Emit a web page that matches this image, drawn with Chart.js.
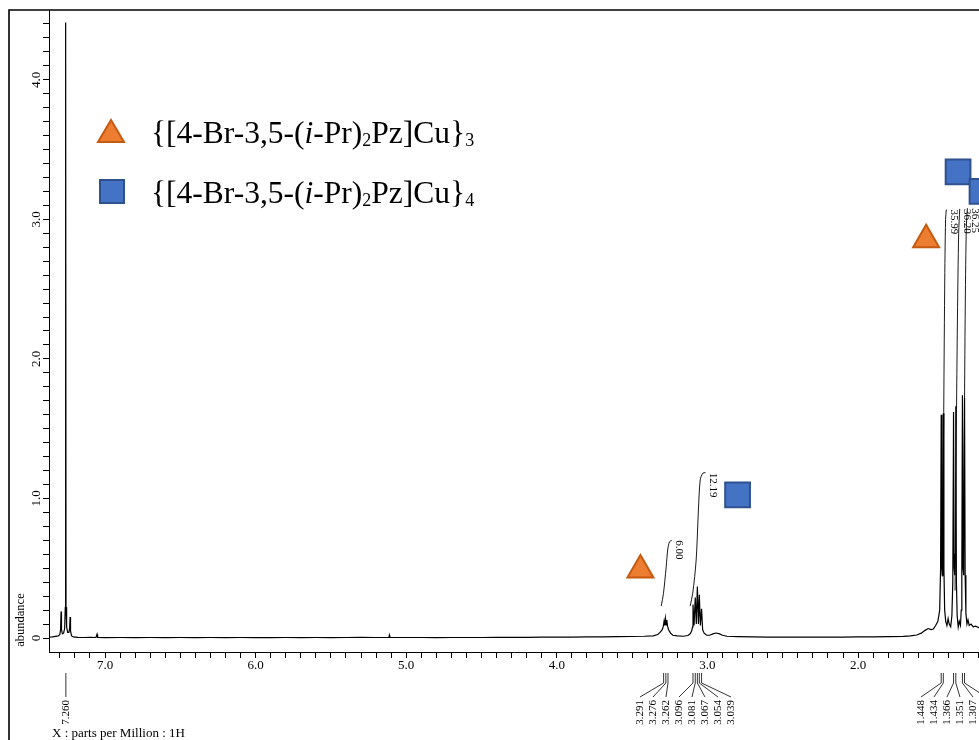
<!DOCTYPE html>
<html>
<head>
<meta charset="utf-8">
<script src="https://cdn.jsdelivr.net/npm/chart.js@4.4.1/dist/chart.umd.min.js"></script>
<style>
  html, body { margin: 0; padding: 0; background: #fff; overflow: hidden; }
  canvas { display: block; }
</style>
</head>
<body>
<canvas id="nmrChart" width="979" height="740"></canvas>
<script>
// 1H NMR spectrum, ppm / abundance
const specPpm = [7.372, 7.35, 7.33, 7.31, 7.30, 7.295, 7.292, 7.289, 7.283, 7.275, 7.268, 7.264, 7.2615, 7.259, 7.255, 7.248, 7.240, 7.235, 7.232, 7.229, 7.222, 7.21, 7.18, 7.14, 7.10, 7.06, 7.053, 7.049,
  7.0, 6.9, 6.8, 6.7, 6.6, 6.5, 6.4, 6.3, 6.2, 6.1, 6.0, 5.9, 5.8, 5.7, 5.6, 5.5, 5.4, 5.3, 5.2, 5.115, 5.112, 5.109,
  5.0, 4.9, 4.8, 4.7, 4.6, 4.5, 4.4, 4.3, 4.2, 4.1, 4.0, 3.9, 3.8, 3.7, 3.6, 3.5, 3.42, 3.36, 3.33, 3.315, 3.30,
  3.293, 3.288, 3.284, 3.279, 3.275, 3.270, 3.265, 3.258, 3.245, 3.23, 3.20, 3.16, 3.13, 3.115, 3.105, 3.099,
  3.096, 3.089, 3.081, 3.074, 3.067, 3.060, 3.054, 3.047, 3.039, 3.032, 3.022, 3.005, 2.985, 2.96, 2.94, 2.92, 2.90, 2.87,
  2.8, 2.7, 2.6, 2.5, 2.4, 2.3, 2.2, 2.1, 2.0, 1.9, 1.8, 1.7, 1.65, 1.61, 1.58, 1.555, 1.535, 1.515, 1.50, 1.485, 1.47,
  1.458, 1.452, 1.448, 1.444, 1.441, 1.437, 1.434, 1.430, 1.425, 1.418, 1.41, 1.402, 1.395, 1.385,
  1.377, 1.371, 1.366, 1.362, 1.358, 1.355, 1.351, 1.347, 1.342, 1.335, 1.328, 1.32,
  1.315, 1.311, 1.307, 1.303, 1.300, 1.297, 1.293, 1.289, 1.284, 1.277, 1.27, 1.262, 1.25, 1.235, 1.22, 1.20, 1.19];
const specAbund = [0.006, 0.008, 0.012, 0.015, 0.025, 0.06, 0.19, 0.06, 0.03, 0.035, 0.07, 0.22, 4.41, 0.22, 0.08, 0.04, 0.04, 0.07, 0.15, 0.05, 0.015, 0.008, 0.005, 0.004, 0.005, 0.004, 0.028, 0.004,
  0.003, 0.004, 0.003, 0.004, 0.003, 0.004, 0.003, 0.004, 0.003, 0.004, 0.003, 0.003, 0.004, 0.003, 0.004, 0.003, 0.004, 0.005, 0.004, 0.004, 0.02, 0.004,
  0.004, 0.004, 0.003, 0.004, 0.004, 0.004, 0.005, 0.005, 0.005, 0.006, 0.006, 0.007, 0.008, 0.009, 0.01, 0.011, 0.013, 0.016, 0.025, 0.04, 0.06,
  0.085, 0.12, 0.09, 0.14, 0.095, 0.13, 0.085, 0.06, 0.035, 0.02, 0.015, 0.013, 0.018, 0.03, 0.05, 0.08,
  0.24, 0.09, 0.29, 0.10, 0.37, 0.10, 0.31, 0.09, 0.21, 0.06, 0.035, 0.02, 0.02, 0.032, 0.036, 0.03, 0.02, 0.013,
  0.01, 0.008, 0.007, 0.006, 0.006, 0.006, 0.006, 0.007, 0.008, 0.009, 0.01, 0.012, 0.015, 0.022, 0.035, 0.055, 0.068, 0.06, 0.065, 0.09, 0.12,
  0.2, 0.5, 1.60, 0.5, 0.45, 0.6, 1.61, 0.5, 0.2, 0.12, 0.09, 0.14, 0.10, 0.08,
  0.16, 0.4, 1.62, 0.5, 0.45, 0.6, 1.66, 0.4, 0.16, 0.08, 0.12, 0.09,
  0.2, 0.5, 1.74, 0.5, 0.45, 0.6, 1.72, 0.45, 0.18, 0.10, 0.13, 0.09, 0.10, 0.08, 0.085, 0.075, 0.07];

// integral curves [ppm, abundance]
const integralCurves = [
  [[3.307, 0.229], [3.292, 0.32], [3.274, 0.511], [3.264, 0.631], [3.252, 0.69], [3.237, 0.70]],
  [[3.115, 0.229], [3.098, 0.32], [3.075, 0.559], [3.060, 0.918], [3.048, 1.133], [3.031, 1.181], [3.013, 1.185]],
  [[1.440, 0.44], [1.432, 1.5], [1.425, 2.5], [1.419, 3.0], [1.414, 3.07]],
  [[1.356, 0.34], [1.350, 1.2], [1.340, 2.3], [1.332, 2.9], [1.325, 3.075]],
  [[1.300, 0.46], [1.295, 1.4], [1.288, 2.4], [1.281, 2.95], [1.274, 3.08]]
];
const integralLabels = ['6.00', '12.19', '35.99', '36.20', '36.25'];

// peak pick labels, grouped as they are fanned out below the axis
const peakGroups = [
  [7.260],
  [3.291, 3.276, 3.262, 3.096, 3.081, 3.067, 3.054, 3.039],
  [1.448, 1.434, 1.366, 1.351, 1.307, 1.293]
];

// assignment markers
const trianglePts = [[3.445, 0.487], [1.548, 2.853]];
const squarePts = [[2.80, 1.025], [1.336, 3.34], [1.177, 3.20]];

const yLabelVals = [0, 1, 2, 3, 4];
const yLabelText = ['0', '1.0', '2.0', '3.0', '4.0'];
const legendNames = [
  [{ t: '{[4-Br-3,5-(' }, { t: 'i', it: true }, { t: '-Pr)' }, { t: '2', sub: true }, { t: 'Pz]Cu}' }, { t: '3', sub: true }],
  [{ t: '{[4-Br-3,5-(' }, { t: 'i', it: true }, { t: '-Pr)' }, { t: '2', sub: true }, { t: 'Pz]Cu}' }, { t: '4', sub: true }]
];

const ORANGE = '#ED7D31', ORANGE_EDGE = '#C55A11';
const BLUE = '#4472C4', BLUE_EDGE = '#2F528F';
const SERIF = '"Liberation Serif", "Times New Roman", serif';

const xTicks = [];
for (let t = 12; t <= 73; t++) xTicks.push({ value: t / 10 });
const yTicks = [];
for (let t = 0; t <= 44; t++) yTicks.push({ value: t / 10 });

const toXY = arr => arr.map(p => ({ x: p[0], y: p[1] }));

const datasets = [
  {
    type: 'scatter', data: toXY(trianglePts), pointStyle: 'triangle', pointRadius: 15,
    backgroundColor: ORANGE, borderColor: ORANGE_EDGE, borderWidth: 2, order: 0, clip: false
  },
  {
    type: 'scatter', data: toXY(squarePts), pointStyle: 'rect', pointRadius: 17.5,
    backgroundColor: BLUE, borderColor: BLUE_EDGE, borderWidth: 2, order: 0, clip: false
  },
  {
    data: specPpm.map((p, i) => ({ x: p, y: specAbund[i] })),
    borderColor: '#000', borderWidth: 1.2, pointRadius: 0, tension: 0, order: 2
  }
];
integralCurves.forEach(c => datasets.push({
  data: toXY(c), borderColor: '#000', borderWidth: 0.9, pointRadius: 0, tension: 0.3, order: 1
}));

const annotate = {
  id: 'annotate',
  afterDraw(chart) {
    const ctx = chart.ctx, xs = chart.scales.x, ys = chart.scales.y;
    ctx.save();
    ctx.fillStyle = '#000';
    ctx.strokeStyle = '#000';

    // outer frame
    ctx.lineWidth = 1.6;
    ctx.beginPath();
    ctx.moveTo(9, 740); ctx.lineTo(9, 10); ctx.lineTo(979, 10);
    ctx.stroke();

    // y tick labels, rotated
    ctx.font = '13px ' + SERIF;
    ctx.textAlign = 'center';
    ctx.textBaseline = 'middle';
    yLabelVals.forEach((v, i) => {
      ctx.save();
      ctx.translate(37, ys.getPixelForValue(v));
      ctx.rotate(-Math.PI / 2);
      ctx.fillText(yLabelText[i], 0, 0);
      ctx.restore();
    });

    // axis titles
    ctx.save();
    ctx.font = '12.5px ' + SERIF;
    ctx.translate(21, 620);
    ctx.rotate(-Math.PI / 2);
    ctx.fillText('abundance', 0, 0);
    ctx.restore();
    ctx.font = '13px ' + SERIF;
    ctx.textAlign = 'left';
    ctx.textBaseline = 'alphabetic';
    ctx.fillText('X : parts per Million : 1H', 52, 737);

    // integral values
    ctx.font = '11px ' + SERIF;
    ctx.textBaseline = 'middle';
    integralCurves.forEach((c, i) => {
      const end = c[c.length - 1];
      ctx.save();
      ctx.translate(xs.getPixelForValue(end[0]) + 7.5, ys.getPixelForValue(end[1]));
      ctx.rotate(Math.PI / 2);
      ctx.textAlign = 'left';
      ctx.fillText(integralLabels[i], 0, 0);
      ctx.restore();
    });

    // peak pick labels
    ctx.lineWidth = 0.8;
    peakGroups.forEach(g => {
      const px = g.map(v => xs.getPixelForValue(v));
      const mid = px.reduce((a, b) => a + b, 0) / px.length;
      g.forEach((v, i) => {
        const lx = mid + (i - (g.length - 1) / 2) * 13;
        ctx.beginPath();
        ctx.moveTo(px[i], 673);
        ctx.lineTo(px[i], 683);
        ctx.lineTo(lx, 697);
        ctx.stroke();
        ctx.save();
        ctx.translate(lx, 700);
        ctx.rotate(-Math.PI / 2);
        ctx.textAlign = 'right';
        ctx.fillText(v.toFixed(3), 0, 0);
        ctx.restore();
      });
    });

    // legend
    ctx.lineWidth = 2;
    ctx.fillStyle = ORANGE; ctx.strokeStyle = ORANGE_EDGE;
    ctx.beginPath();
    ctx.moveTo(111, 120); ctx.lineTo(124, 142); ctx.lineTo(98, 142); ctx.closePath();
    ctx.fill(); ctx.stroke();
    ctx.fillStyle = BLUE; ctx.strokeStyle = BLUE_EDGE;
    ctx.fillRect(100, 180, 24, 23);
    ctx.strokeRect(100, 180, 24, 23);

    ctx.fillStyle = '#000';
    ctx.textAlign = 'left';
    ctx.textBaseline = 'alphabetic';
    legendNames.forEach((runs, row) => {
      let x = 151;
      const base = row === 0 ? 143 : 203;
      runs.forEach(r => {
        ctx.font = (r.it ? 'italic ' : '') + (r.sub ? '18px ' : '31.5px ') + SERIF;
        const y = r.sub ? base + 3 : base;
        ctx.fillText(r.t, x, y);
        x += ctx.measureText(r.t).width;
      });
    });
    ctx.restore();
  }
};

new Chart(document.getElementById('nmrChart'), {
  type: 'line',
  data: { datasets },
  plugins: [annotate],
  options: {
    responsive: false,
    animation: false,
    devicePixelRatio: 1,
    layout: { autoPadding: false, padding: { left: 9, top: 10, right: 0, bottom: 0 } },
    plugins: { legend: { display: false }, tooltip: { enabled: false } },
    scales: {
      x: {
        type: 'linear', reverse: true, min: 1.197, max: 7.372,
        afterBuildTicks: s => { s.ticks = xTicks.map(t => ({ value: t.value })); },
        afterFit: s => { s.height = 88; },
        border: { display: true, color: '#000', width: 1 },
        grid: { drawOnChartArea: false, drawTicks: true, tickLength: 6, color: '#000', lineWidth: 1 },
        ticks: {
          autoSkip: false, maxRotation: 0, minRotation: 0, padding: 0, color: '#000',
          font: { family: SERIF, size: 13 },
          callback: v => Math.abs(v - Math.round(v)) < 1e-6 ? v.toFixed(1) : ''
        }
      },
      y: {
        type: 'linear', min: -0.1, max: 4.5,
        afterBuildTicks: s => { s.ticks = yTicks.map(t => ({ value: t.value })); },
        afterFit: s => { s.width = 40; },
        border: { display: true, color: '#000', width: 1 },
        grid: { drawOnChartArea: false, drawTicks: true, tickLength: 6, color: '#000', lineWidth: 1 },
        ticks: { display: false }
      }
    }
  }
});
</script>
</body>
</html>
